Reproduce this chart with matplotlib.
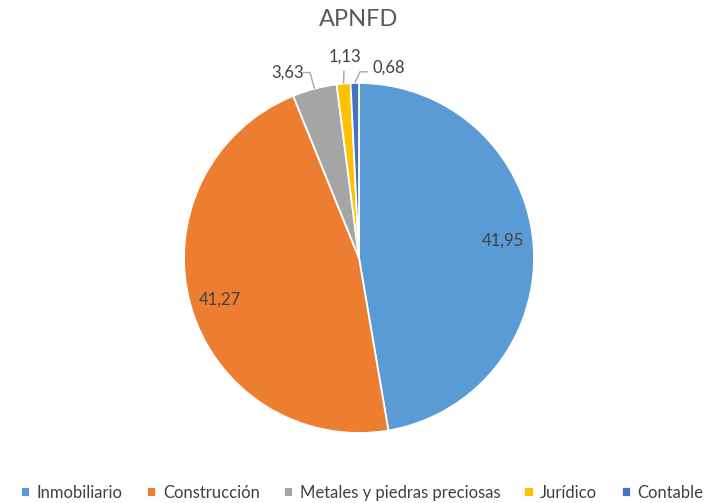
import numpy as np
import matplotlib.pyplot as plt

plt.rcParams['font.family'] = ['Lato', 'DejaVu Sans']

categories = ["Inmobiliario", "Construcción", "Metales y piedras preciosas", "Jurídico", "Contable"]
values = [41.95, 41.27, 3.63, 1.13, 0.68]
labels = ["41,95", "41,27", "3,63", "1,13", "0,68"]
colors = ['#5B9BD5', '#ED7D31', '#A5A5A5', '#FFC000', '#4472C4']

W, H = 713, 503
fig = plt.figure(figsize=(W / 100, H / 100), dpi=100)

# pie centre (359, 258) px, radius 175 px
cx, cy, R, span = 359, 258, 175, 1.4
ax = fig.add_axes([(cx - R * span) / W, (H - cy - R * span) / H,
                   2 * R * span / W, 2 * R * span / H])

wedges, _ = ax.pie(values, colors=colors, startangle=90, counterclock=False,
                   radius=1, wedgeprops=dict(edgecolor='white', linewidth=1.3))
ax.set_xlim(-span, span)
ax.set_ylim(-span, span)
ax.set_aspect('equal')
ax.axis('off')

txt = '#404040'
line_c = '#A6A6A6'
total = sum(values)
cum = np.cumsum([0] + values[:-1])
mids = 90 - (cum + np.array(values) / 2) / total * 360

# inside labels
for i in (0, 1):
    a = np.deg2rad(mids[i] + (2 if i == 0 else 0.7))
    ax.text(0.83 * np.cos(a), 0.84 * np.sin(a), labels[i], ha='center', va='center',
            fontsize=12, color=txt)

# outside labels with leader lines: (label pos, leader path)
outside = {
    2: ((-0.41, 1.06), [(-0.28, 1.06), (-0.32, 1.06)]),
    3: ((-0.08, 1.15), [(-0.086, 1.07)]),
    4: ((0.17, 1.09), [(0.006, 1.064), (0.05, 1.064)]),
}
for i, (pos, path) in outside.items():
    a = np.deg2rad(mids[i])
    p0 = (np.cos(a), np.sin(a))
    pts = [p0] + path
    xs, ys = zip(*pts)
    ax.plot(xs, ys, color=line_c, lw=1, solid_capstyle='butt')
    ax.text(pos[0], pos[1], labels[i], ha='center', va='center', fontsize=12, color=txt)

fig.text(cx / W, 1 - 19 / H, "APNFD", ha='center', va='center', fontsize=17, color='#595959')

fig.legend(wedges, categories, loc='center', bbox_to_anchor=(0.508, 1 - 493 / H), ncol=5,
           frameon=False, fontsize=12, labelcolor=txt, handlelength=0.55, handleheight=0.55,
           handletextpad=0.4, columnspacing=1.45, borderaxespad=0)

fig.savefig('out.png', dpi=100)
